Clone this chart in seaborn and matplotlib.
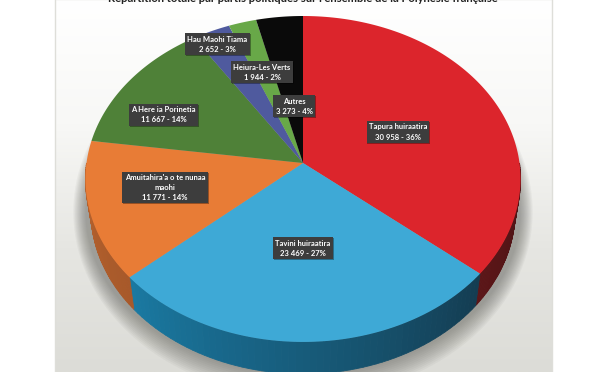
import numpy as np
import pandas as pd
import seaborn as sns
import matplotlib.pyplot as plt
import matplotlib.patheffects as pe
from matplotlib.colors import LinearSegmentedColormap, to_rgb
from matplotlib.patches import Rectangle

title = "Répartition totale par partis politiques sur l'ensemble de la Polynésie française"
parties = ['Tapura huiraatira', 'Tavini huiraatira', "Amuitahira'a o te nunaa\nmaohi",
           'A Here ia Porinetia', 'Hau Maohi Tiama', 'Heiura-Les Verts', 'Autres']
votes = [30958, 23469, 11771, 11667, 2652, 1944, 3273]
pcts = [36, 27, 14, 14, 3, 2, 4]
top_colors = ['#dc252c', '#3ea9d6', '#e87c36', '#4f8138', '#4f5a9e', '#68a848', '#0a0a0a']
# wall shade at the right hand end and the left hand end of each slice
wall_right = ['#4a1214', '#143d52', '#a8592a', '#3a6029', '#3a4274', '#4d7c35', '#050505']
wall_left = ['#5c1618', '#1a7aa3', '#b5622e', '#3a6029', '#3a4274', '#4d7c35', '#050505']
label_x = [398, 303, 165, 163.5, 217.5, 262, 294]
label_y = [132, 248, 187.5, 115, 44, 72, 106]

df = pd.DataFrame({'party': parties, 'votes': votes, 'pct': pcts})
df['end'] = df['votes'].cumsum() / df['votes'].sum() * 2 * np.pi
df['start'] = df['end'] - df['votes'] / df['votes'].sum() * 2 * np.pi

sns.set_theme(style='white')
plt.rcParams['font.family'] = ['Lato', 'DejaVu Sans']

cx, cy, rx, ry, k = 303, 163, 216.5, 161.4, 0.098
depth = 32


def project(theta):
    # clockwise from the top of the disc, with a little perspective
    x, y = np.sin(theta), np.cos(theta)
    d = 1 + k * y
    return cx + rx * x / d, cy - ry * y / d


def wall(theta):
    x, y = project(theta)
    return cx + (x - cx) * 0.975, y + depth


fig = plt.figure(figsize=(6, 3.72), dpi=100, facecolor='white')
ax = fig.add_axes([0, 0, 1, 1])

# paper card behind the chart
card = LinearSegmentedColormap.from_list('card', ['#ffffff', '#f8f8f6', '#e6e6e2', '#dcdcd7'])
ax.imshow(np.linspace(0, 1, 256).reshape(-1, 1), cmap=card, extent=[55, 552, 372, 0],
          aspect='auto', zorder=0)
ax.set_xlim(0, 600)
ax.set_ylim(372, 0)
ax.axis('off')
ax.add_patch(Rectangle((55, -1), 497, 374, fc='none', ec='#deded9', lw=1, zorder=1))

# soft shadow that only shows below the pie
t = np.linspace(0, 2 * np.pi, 200)
for g in np.arange(24, 0, -2):
    ax.fill(303 + (rx + g * 0.55) * np.sin(t), 212 + (ry + g) * np.cos(t),
            color='#55554f', alpha=0.05, lw=0, zorder=2)

# side wall, drawn as thin strips so the shade can run along it
for i, row in df.iterrows():
    a = max(row['start'], np.pi / 2)
    b = min(row['end'], 3 * np.pi / 2)
    if b <= a:
        continue
    steps = np.linspace(a, b, 60)
    c0, c1 = np.array(to_rgb(wall_right[i])), np.array(to_rgb(wall_left[i]))
    for s0, s1 in zip(steps[:-1], steps[1:]):
        f = (s0 - a) / (b - a)
        ts = np.array([s0, s1])
        px, py = project(ts)
        qx, qy = wall(ts)
        c = c0 * (1 - f) + c1 * f
        ax.fill([px[0], px[1], qx[1], qx[0]], [py[0], py[1], qy[1], qy[0]],
                fc=c, ec=c, lw=0.6, zorder=3)

# top of the pie
for i, row in df.iterrows():
    t = np.linspace(row['start'], row['end'], 120)
    px, py = project(t)
    ax.fill(np.r_[cx, px], np.r_[cy, py], color=top_colors[i], lw=0, zorder=4)

for i, row in df.iterrows():
    votes_txt = f"{row['votes']:,}".replace(',', ' ')
    lab = ax.text(label_x[i], label_y[i], f"{row['party']}\n{votes_txt} - {row['pct']}%",
                  ha='center', va='center', ma='center', color='white', fontsize=5.5,
                  fontweight='bold', linespacing=1.5, zorder=6,
                  bbox=dict(boxstyle='square,pad=0.3', fc='#3d3d3d', ec='none'))
    lab.get_bbox_patch().set_path_effects([
        pe.SimplePatchShadow(offset=(0.7, -0.7), shadow_rgbFace='#000000', alpha=0.35), pe.Normal()])

ax.text(303, -1.5, title, ha='center', va='center', fontsize=8.1, fontweight='bold',
        color='#222222', zorder=6)

fig.savefig('out.png', dpi=100)
